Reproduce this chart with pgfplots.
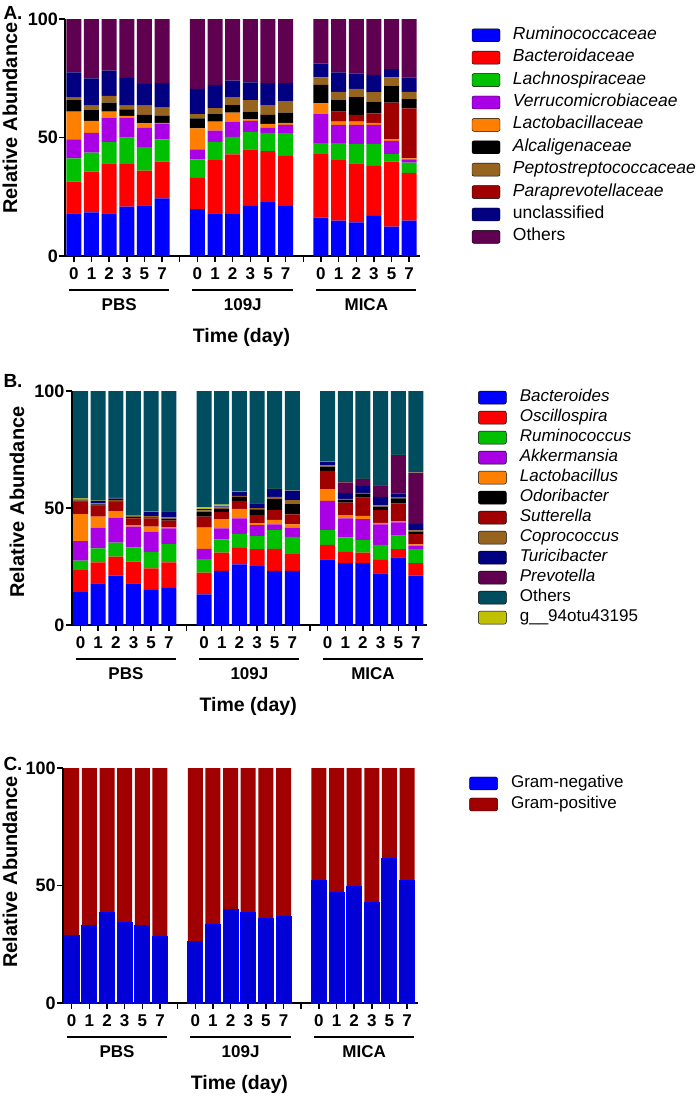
\documentclass[border=0pt]{standalone}
\usepackage{fontspec}
\setmainfont{Liberation Sans}
\usepackage{pgfplots}
\usepackage{pgfplotstable}
\pgfplotsset{compat=1.18}

\definecolor{cBlue}{RGB}{0,0,255}
\definecolor{cRed}{RGB}{255,0,0}
\definecolor{cGreen}{RGB}{0,192,0}
\definecolor{cPurple}{RGB}{170,0,230}
\definecolor{cOrange}{RGB}{255,128,0}
\definecolor{cBlack}{RGB}{0,0,0}
\definecolor{cBrown}{RGB}{150,100,30}
\definecolor{cDred}{RGB}{160,0,0}
\definecolor{cNavy}{RGB}{0,0,128}
\definecolor{cDpurple}{RGB}{96,0,80}
\definecolor{cTeal}{RGB}{0,77,96}
\definecolor{cOlive}{RGB}{192,192,0}
\definecolor{cGneg}{RGB}{0,0,215}

\pgfplotstableread{
x  blue red green purple orange dred black brown navy oth
0  18.0 13.4 9.8  8.0  11.7 0    4.9 1.0 10.7 22.5
1  18.4 17.2 8.0  8.4  5.0  0    4.6 1.8 11.6 25.0
2  18.0 21.1 8.9  10.4 2.5  0    3.8 2.9 10.6 21.8
3  20.8 18.0 11.1 8.5  0.7  0    2.8 1.5 11.8 24.8
4  21.4 14.6 9.9  8.2  1.9  0    3.5 3.9 9.2  27.4
5  24.3 15.5 9.4  6.5  0.5  0    2.9 3.5 10.3 27.1
7  19.8 13.2 7.8  4.2  8.9  0    4.2 1.8 10.6 29.5
8  18.0 22.5 7.7  4.7  3.8  0    3.2 2.5 9.8  27.8
9  17.7 25.2 7.4  6.4  3.8  0    3.2 3.3 7.0  26.0
10 21.2 23.8 7.4  4.6  0.7  0    3.2 4.9 7.5  26.7
11 22.7 21.6 7.7  2.1  1.6  0    3.8 4.2 9.2  27.1
12 21.2 21.1 9.5  3.5  0.9  0    4.3 4.9 7.5  27.1
14 16.2 26.8 4.6  12.3 4.5  0    7.8 3.2 5.8  18.8
15 14.9 25.6 7.1  7.7  1.4  4.2  4.9 3.5 8.2  22.5
16 14.2 24.9 8.2  8.0  1.4  2.8  7.5 3.5 6.6  22.9
17 16.9 21.1 9.3  8.0  0.9  4.0  4.9 4.0 7.3  23.6
18 12.4 27.4 3.2  5.6  0.6  15.5 7.2 3.5 3.5  21.1
19 14.9 20.2 4.3  1.4  0.4  21.1 3.9 3.1 6.1  24.6
}\tabA

\pgfplotstableread{
x  blue red  green purple orange dred black brown navy prev yel oth
0  14.0 9.5  4.0  8.4  11.5 5.3 0.5 0.5 0.2 0    0.2 45.9
1  17.8 9.0  6.0  8.8  4.7  4.7 0.6 0.4 1.0 0    0.2 46.8
2  21.1 8.1  6.0  10.7 2.8  4.0 0.4 0.3 0.7 0    0.2 45.7
3  17.8 9.3  6.1  8.8  0.7  2.9 0.5 0.4 0.2 0    0.1 53.2
4  15.0 9.2  7.1  8.6  2.1  3.6 0.4 0.5 1.9 0    0.1 51.5
5  15.9 10.9 7.8  6.7  0.5  2.8 0.9 0.5 2.2 0    0.1 51.7
7  13.1 9.3  5.8  4.3  9.1  4.7 1.9 0.8 0.5 0    0.8 49.7
8  23.1 7.8  5.7  4.7  4.0  3.1 1.2 0.7 0.4 0    0.7 48.6
9  25.9 7.1  5.9  6.7  4.0  3.5 1.7 0.4 1.8 0    0.2 42.8
10 25.2 7.2  5.6  4.7  0.7  3.6 2.4 0.5 1.8 0    0.1 48.2
11 23.1 9.4  8.1  2.4  1.9  4.2 4.7 1.0 3.3 0    0.1 41.8
12 23.1 7.2  7.4  3.9  1.4  4.3 4.4 1.7 4.0 0    0.1 42.5
14 28.1 6.1  6.4  12.5 5.0  7.8 1.8 0.5 1.6 0    0.1 30.1
15 26.4 4.9  6.2  8.1  1.4  5.3 1.1 0.5 2.6 4.5  0.1 38.9
16 26.4 4.5  5.4  9.0  1.3  7.8 1.6 0.5 3.0 2.9  0.1 37.5
17 22.1 5.7  6.4  8.8  0.7  5.4 1.5 0.5 3.7 4.6  0.1 40.5
18 28.9 3.5  5.8  5.7  0.5  7.6 2.1 0.5 1.7 16.3 0.1 27.3
19 21.1 5.3  6.0  1.5  0.6  4.3 1.1 0.5 2.8 21.9 0.1 34.8
}\tabB

\pgfplotstableread{
x  neg  pos
0  28.9 71.1
1  32.9 67.1
2  38.6 61.4
3  34.2 65.8
4  32.9 67.1
5  28.5 71.5
7  26.0 74.0
8  33.6 66.4
9  39.6 60.4
10 38.6 61.4
11 36.0 64.0
12 36.7 63.3
14 52.3 47.7
15 47.1 52.9
16 49.5 50.5
17 42.7 57.3
18 61.6 38.4
19 52.0 48.0
}\tabC

\tikzset{
  grp/.style={font=\bfseries\fontsize{17}{17}\selectfont},
  tday/.style={font=\bfseries\fontsize{19.5}{19.5}\selectfont},
}
\newcommand\groups{%
  \draw[line width=2.5pt] ([yshift=-34pt]axis cs:-0.28,0) -- ([yshift=-34pt]axis cs:5.4,0);
  \draw[line width=2.5pt] ([yshift=-34pt]axis cs:6.72,0) -- ([yshift=-34pt]axis cs:12.4,0);
  \draw[line width=2.5pt] ([yshift=-34pt]axis cs:13.72,0) -- ([yshift=-34pt]axis cs:19.4,0);
  \node[grp] at ([yshift=-49pt]axis cs:2.57,0) {PBS};
  \node[grp] at ([yshift=-49pt]axis cs:9.57,0) {109J};
  \node[grp] at ([yshift=-49pt]axis cs:16.57,0) {MICA};
  \node[tday] at ([yshift=-81pt]axis cs:9.5,0) {Time (day)};
}
\pgfplotsset{
  sqlegend/.style={legend image code/.code={\fill[##1, rounded corners=2pt] (0pt,-6.5pt) rectangle (28pt,6.5pt);}},
  panel/.style={
    scale only axis, width=354.8pt,
    ybar stacked, bar width=0.85,
    xmin=-0.5, xmax=19.6, ymin=0, ymax=100,
    axis x line=bottom, axis y line=left,
    axis line style={line width=2pt,-},
    xtick={0,...,19},
    xticklabels={0,1,2,3,5,7,{},0,1,2,3,5,7,{},0,1,2,3,5,7},
    ytick={0,50,100}, yticklabels={0,50,100},
    tick align=outside, major tick length=6pt,
    every tick/.style={black, line width=1.5pt},
    xticklabel style={font=\bfseries\fontsize{17}{17}\selectfont, inner sep=5.5pt},
    yticklabel style={font=\bfseries\fontsize{18}{18}\selectfont, inner sep=1pt},
    clip=false,
    legend cell align=left,
    legend style={draw=none, fill=none, inner sep=0pt, anchor=north west,
      nodes={inner sep=0pt, text height=12pt, text depth=4pt},
      column sep=12.7pt},
  },
}

\begin{document}
\begin{tikzpicture}
\useasboundingbox (0,0) rectangle (697pt,-1100pt);

% ---------------- Panel A
\begin{axis}[panel, at={(65pt,-256pt)}, anchor=south west, height=237pt,
  legend style={at={(1.146,0.966)}, row sep=6.4pt, font=\fontsize{17.5}{17.5}\selectfont}]
\addplot[fill=cBlue,draw=none,forget plot] table[x=x,y=blue]{\tabA};
\addplot[fill=cRed,draw=none,forget plot] table[x=x,y=red]{\tabA};
\addplot[fill=cGreen,draw=none,forget plot] table[x=x,y=green]{\tabA};
\addplot[fill=cPurple,draw=none,forget plot] table[x=x,y=purple]{\tabA};
\addplot[fill=cOrange,draw=none,forget plot] table[x=x,y=orange]{\tabA};
\addplot[fill=cDred,draw=none,forget plot] table[x=x,y=dred]{\tabA};
\addplot[fill=cBlack,draw=none,forget plot] table[x=x,y=black]{\tabA};
\addplot[fill=cBrown,draw=none,forget plot] table[x=x,y=brown]{\tabA};
\addplot[fill=cNavy,draw=none,forget plot] table[x=x,y=navy]{\tabA};
\addplot[fill=cDpurple,draw=none,forget plot] table[x=x,y=oth]{\tabA};
\addlegendimage{sqlegend,fill=cBlue}\addlegendentry{\textit{Ruminococcaceae}}
\addlegendimage{sqlegend,fill=cRed}\addlegendentry{\textit{Bacteroidaceae}}
\addlegendimage{sqlegend,fill=cGreen}\addlegendentry{\textit{Lachnospiraceae}}
\addlegendimage{sqlegend,fill=cPurple}\addlegendentry{\textit{Verrucomicrobiaceae}}
\addlegendimage{sqlegend,fill=cOrange}\addlegendentry{\textit{Lactobacillaceae}}
\addlegendimage{sqlegend,fill=cBlack}\addlegendentry{\textit{Alcaligenaceae}}
\addlegendimage{sqlegend,fill=cBrown}\addlegendentry{\textit{Peptostreptococcaceae}}
\addlegendimage{sqlegend,fill=cDred}\addlegendentry{\textit{Paraprevotellaceae}}
\addlegendimage{sqlegend,fill=cNavy}\addlegendentry{unclassified}
\addlegendimage{sqlegend,fill=cDpurple}\addlegendentry{Others}
\groups
\end{axis}

% ---------------- Panel B
\begin{axis}[panel, at={(71.7pt,-625pt)}, anchor=south west, height=234pt,
  legend style={at={(1.145,1.007)}, row sep=4pt, column sep=13.3pt, font=\fontsize{17}{17}\selectfont}]
\addplot[fill=cBlue,draw=none,forget plot] table[x=x,y=blue]{\tabB};
\addplot[fill=cRed,draw=none,forget plot] table[x=x,y=red]{\tabB};
\addplot[fill=cGreen,draw=none,forget plot] table[x=x,y=green]{\tabB};
\addplot[fill=cPurple,draw=none,forget plot] table[x=x,y=purple]{\tabB};
\addplot[fill=cOrange,draw=none,forget plot] table[x=x,y=orange]{\tabB};
\addplot[fill=cDred,draw=none,forget plot] table[x=x,y=dred]{\tabB};
\addplot[fill=cBlack,draw=none,forget plot] table[x=x,y=black]{\tabB};
\addplot[fill=cBrown,draw=none,forget plot] table[x=x,y=brown]{\tabB};
\addplot[fill=cNavy,draw=none,forget plot] table[x=x,y=navy]{\tabB};
\addplot[fill=cDpurple,draw=none,forget plot] table[x=x,y=prev]{\tabB};
\addplot[fill=cOlive,draw=none,forget plot] table[x=x,y=yel]{\tabB};
\addplot[fill=cTeal,draw=none,forget plot] table[x=x,y=oth]{\tabB};
\addlegendimage{sqlegend,fill=cBlue}\addlegendentry{\textit{Bacteroides}}
\addlegendimage{sqlegend,fill=cRed}\addlegendentry{\textit{Oscillospira}}
\addlegendimage{sqlegend,fill=cGreen}\addlegendentry{\textit{Ruminococcus}}
\addlegendimage{sqlegend,fill=cPurple}\addlegendentry{\textit{Akkermansia}}
\addlegendimage{sqlegend,fill=cOrange}\addlegendentry{\textit{Lactobacillus}}
\addlegendimage{sqlegend,fill=cBlack}\addlegendentry{\textit{Odoribacter}}
\addlegendimage{sqlegend,fill=cDred}\addlegendentry{\textit{Sutterella}}
\addlegendimage{sqlegend,fill=cBrown}\addlegendentry{\textit{Coprococcus}}
\addlegendimage{sqlegend,fill=cNavy}\addlegendentry{\textit{Turicibacter}}
\addlegendimage{sqlegend,fill=cDpurple}\addlegendentry{\textit{Prevotella}}
\addlegendimage{sqlegend,fill=cTeal}\addlegendentry{Others}
\addlegendimage{sqlegend,fill=cOlive}\addlegendentry{g\_\_94otu43195}
\groups
\end{axis}

% ---------------- Panel C
\begin{axis}[panel, at={(62.9pt,-1003pt)}, anchor=south west, height=235pt,
  legend style={at={(1.145,0.969)}, row sep=5pt, column sep=13.3pt, font=\fontsize{17}{17}\selectfont}]
\addplot[fill=cGneg,draw=cBlue,line width=1pt,forget plot] table[x=x,y=neg]{\tabC};
\addplot[fill=cDred,draw=none,forget plot] table[x=x,y=pos]{\tabC};
\addlegendimage{sqlegend,fill=cBlue}\addlegendentry{Gram-negative}
\addlegendimage{sqlegend,fill=cDred}\addlegendentry{Gram-positive}
\groups
\end{axis}

% labels
\node[font=\bfseries\fontsize{20}{20}\selectfont, rotate=90] at (10pt,-118pt) {Relative Abundance};
\node[font=\bfseries\fontsize{20}{20}\selectfont, rotate=90] at (17pt,-502pt) {Relative Abundance};
\node[font=\bfseries\fontsize{20}{20}\selectfont, rotate=90] at (10pt,-872pt) {Relative Abundance};
\node[font=\bfseries\fontsize{19}{19}\selectfont] at (13pt,-13pt) {A.};
\node[font=\bfseries\fontsize{19}{19}\selectfont] at (13pt,-381pt) {B.};
\node[font=\bfseries\fontsize{19}{19}\selectfont] at (13pt,-764pt) {C.};
\end{tikzpicture}
\end{document}
